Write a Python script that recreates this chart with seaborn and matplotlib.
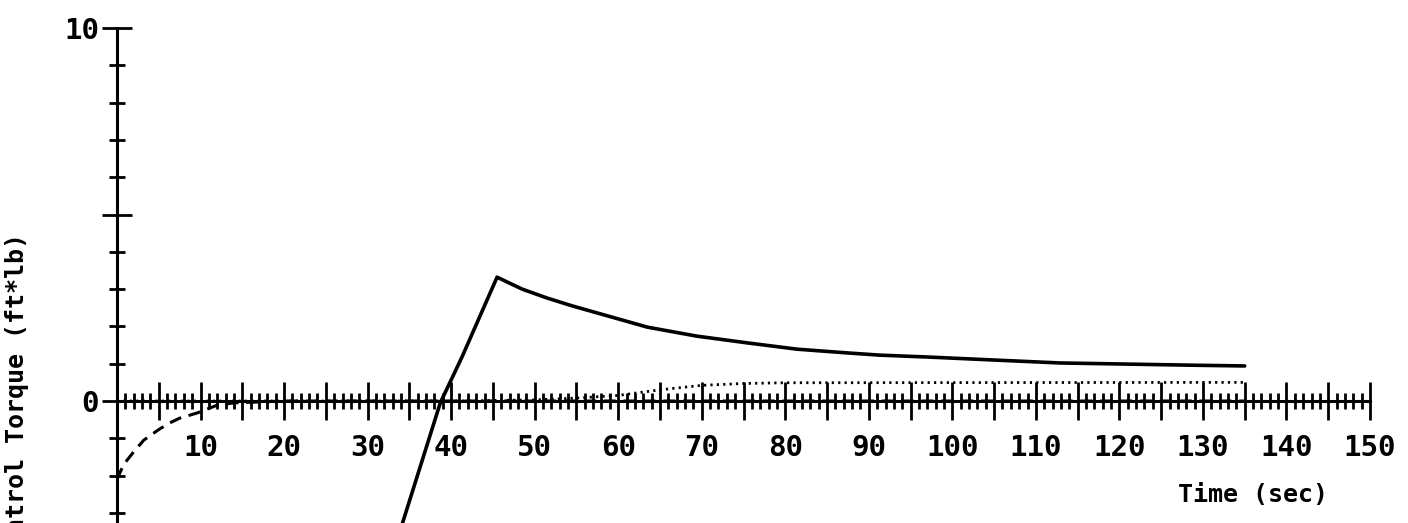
import numpy as np
import pandas as pd
import matplotlib
matplotlib.use("Agg")
import matplotlib.pyplot as plt
from matplotlib.ticker import MultipleLocator, FuncFormatter
import seaborn as sns

# values
t_solid = [34.0, 38.7, 41.3, 45.5, 48.5, 51.5, 54.5, 57.5, 63.5, 69.4, 75.4, 81.4,
           87.4, 91.3, 97.0, 104.9, 112.9, 120.9, 128.8, 135.0]
u_solid = [-3.4, -0.05, 1.18, 3.32, 3.0, 2.76, 2.55, 2.36, 1.98, 1.74, 1.56, 1.39,
           1.29, 1.23, 1.18, 1.10, 1.02, 0.99, 0.96, 0.94]

t_dashed = [0, 0.8, 1.9, 3.2, 4.9, 6.2, 7.5, 9.6, 12.0, 14.0, 20.0, 135.0]
u_dashed = [-2.1, -1.7, -1.39, -1.05, -0.78, -0.6, -0.46, -0.32, -0.11, -0.05, 0.0, 0.0]

t_dotted = [0, 40, 50, 55, 60, 65, 70, 75, 80, 135]
u_dotted = [0.0, 0.0, 0.03, 0.08, 0.15, 0.3, 0.42, 0.47, 0.49, 0.5]

x_max = 150
y_min, y_max = -3.27, 10

sns.set_style("ticks", rc={'axes.edgecolor': 'black', 'text.color': 'black',
                           'xtick.color': 'black', 'ytick.color': 'black',
                           'axes.labelcolor': 'black'})
plt.rcParams['font.family'] = ['DejaVu Sans Mono', 'DejaVu Sans']

fig = plt.figure(figsize=(14.08, 5.23), dpi=100)
ax = fig.add_axes([117 / 1408, 0.0, 1253 / 1408, 495 / 523])

solid = pd.DataFrame({'t': t_solid, 'u': u_solid})
dashed = pd.DataFrame({'t': t_dashed, 'u': u_dashed})
dotted = pd.DataFrame({'t': t_dotted, 'u': u_dotted})

sns.lineplot(data=solid, x='t', y='u', ax=ax, color='black', lw=2.6)
sns.lineplot(data=dashed, x='t', y='u', ax=ax, color='black', lw=2.2,
             linestyle=(0, (4, 2.5)))
sns.lineplot(data=dotted, x='t', y='u', ax=ax, color='black', lw=2.0,
             linestyle=(0, (0.8, 1.5)))

ax.set_xlim(0, x_max)
ax.set_ylim(y_min, y_max)

for s in ['top', 'right']:
    ax.spines[s].set_visible(False)
ax.spines['bottom'].set_position(('data', 0))
ax.spines['left'].set_linewidth(2.2)
ax.spines['bottom'].set_linewidth(2.2)

ax.xaxis.set_major_locator(MultipleLocator(5))
ax.xaxis.set_minor_locator(MultipleLocator(1))
ax.yaxis.set_major_locator(MultipleLocator(5))
ax.yaxis.set_minor_locator(MultipleLocator(1))

ax.xaxis.set_major_formatter(FuncFormatter(
    lambda v, p: '' if (round(v) % 10 or round(v) == 0) else str(int(round(v)))))
ax.yaxis.set_major_formatter(FuncFormatter(
    lambda v, p: str(int(round(v))) if round(v) in (0, 10) else ''))

ax.tick_params(bottom=True, left=True, which='both')
ax.tick_params(axis='x', which='major', direction='inout', length=27, width=2,
               labelsize=21, pad=10)
ax.tick_params(axis='x', which='minor', direction='inout', length=12, width=2)
ax.tick_params(axis='y', which='major', direction='inout', length=22, width=2,
               labelsize=21, pad=2)
ax.tick_params(axis='y', which='minor', direction='inout', length=12, width=2)
for lab in ax.get_xticklabels() + ax.get_yticklabels():
    lab.set_fontweight('bold')

ax.set_xlabel('Time (sec)', fontsize=18, fontweight='bold')
ax.xaxis.set_label_coords(0.907, 0.057)
ax.xaxis.label.set_va('center')
ax.set_ylabel('Control Torque (ft*lb)', fontsize=18, fontweight='bold', va='center')
ax.yaxis.set_label_coords(-0.080, 0.253)

fig.savefig('out.png', dpi=100)
